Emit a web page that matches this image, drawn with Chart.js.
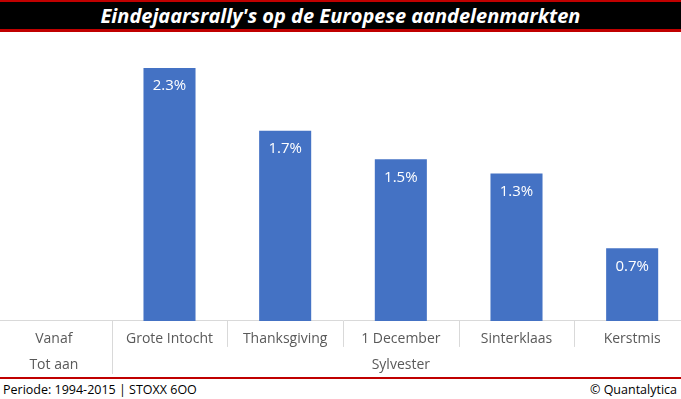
<!DOCTYPE html>
<html>
<head>
<meta charset="utf-8">
<script src="https://cdn.jsdelivr.net/npm/chart.js@4.4.1/dist/chart.umd.min.js"></script>
<style>
body { margin: 0; width: 681px; height: 399px; overflow: hidden; background: #fff; position: relative; font-family: "Open Sans", sans-serif; }
#title { position: absolute; left: 0; top: 0; width: 681px; height: 27px; background: #000; border-top: 2px solid #c00000; border-bottom: 3px solid #c00000;
  color: #fff; font: italic bold 20px "Open Sans", sans-serif; text-align: center; line-height: 28px; }
#wrap { position: absolute; left: -5px; top: 46px; width: 696px; height: 329px; }
#footline { position: absolute; left: 0; top: 377px; width: 681px; height: 2px; background: #c00000; }
#fl { position: absolute; left: 3px; top: 381px; font-size: 12.5px; color: #000; }
#fr { position: absolute; right: 4px; top: 381px; font-size: 12.5px; color: #000; }
</style>
</head>
<body>
<div id="title">Eindejaarsrally's op de Europese aandelenmarkten</div>
<div id="wrap"><canvas id="barChart"></canvas></div>
<div id="footline"></div>
<div id="fl">Periode: 1994-2015 | STOXX 6OO</div>
<div id="fr">© Quantalytica</div>
<script>
// categories: first row = "vanaf", second row = "tot aan"
var vanaf = ["Vanaf", "Grote Intocht", "Thanksgiving", "1 December", "Sinterklaas", "Kerstmis"];
var totAan = ["Tot aan", "", "", "Sylvester", "", ""];
var rendement = [null, 2.3, 1.73, 1.47, 1.34, 0.66];

var labels = vanaf.map(function (v, i) { return [v, totAan[i]]; });

var valueLabels = {
  id: 'valueLabels',
  afterDatasetsDraw: function (chart) {
    var ctx = chart.ctx;
    var meta = chart.getDatasetMeta(0);
    ctx.save();
    ctx.fillStyle = '#fff';
    ctx.font = '15px "Open Sans"';
    ctx.textAlign = 'center';
    ctx.textBaseline = 'middle';
    meta.data.forEach(function (bar, i) {
      if (rendement[i] == null) return;
      ctx.fillText(rendement[i].toFixed(1) + '%', bar.x, bar.y + 18);
    });
    ctx.restore();
  }
};

var dividers = {
  id: 'dividers',
  afterDraw: function (chart) {
    var ctx = chart.ctx;
    var x = chart.scales.x;
    var base = chart.chartArea.bottom;
    ctx.save();
    ctx.strokeStyle = '#d9d9d9';
    ctx.lineWidth = 1;
    for (var i = 0; i < vanaf.length - 1; i++) {
      var px = Math.round((x.getPixelForValue(i) + x.getPixelForValue(i + 1)) / 2) + 0.5;
      ctx.beginPath();
      ctx.moveTo(px, base);
      ctx.lineTo(px, base + (i == 0 ? 53 : 26));
      ctx.stroke();
    }
    ctx.restore();
  }
};

var ctxB = document.getElementById("barChart").getContext('2d');
var myBarChart = new Chart(ctxB, {
  type: 'bar',
  data: {
    labels: labels,
    datasets: [{
      data: rendement,
      backgroundColor: '#4472c4',
      categoryPercentage: 1,
      barPercentage: 0.45
    }]
  },
  options: {
    responsive: true,
    maintainAspectRatio: false,
    animation: false,
    layout: { padding: { left: 1, right: 1, top: 0, bottom: 0 } },
    plugins: { legend: { display: false }, tooltip: { enabled: false } },
    scales: {
      x: {
        grid: { display: false },
        border: { color: '#d9d9d9' },
        ticks: { color: '#595959', font: { family: 'Open Sans', size: 14, lineHeight: 1.86 }, padding: -3, maxRotation: 0, autoSkip: false }
      },
      y: { display: false, min: 0, max: 2.5 }
    }
  },
  plugins: [valueLabels, dividers]
});
</script>
</body>
</html>
